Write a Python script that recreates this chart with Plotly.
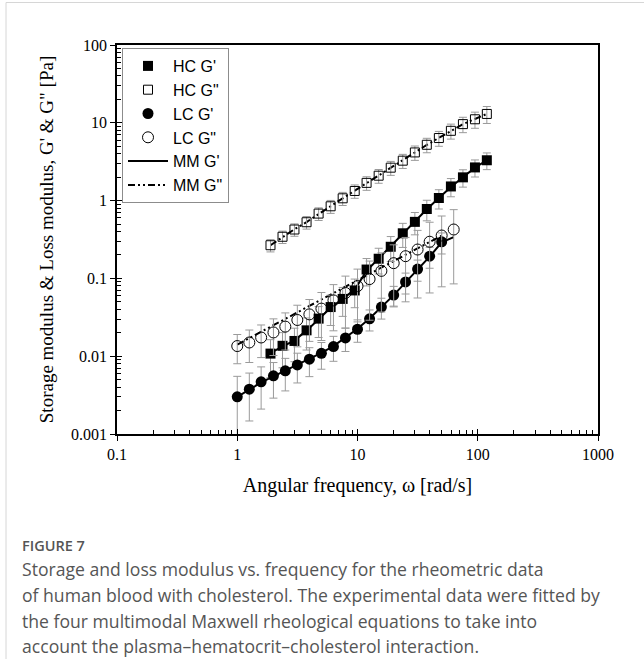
import plotly.graph_objects as go

# ---------------- data ----------------
hc_freq = [1.89, 2.38, 2.99, 3.77, 4.75, 5.98, 7.53, 9.48, 11.9, 15.0,
           18.9, 23.8, 30.0, 37.7, 47.5, 59.8, 75.3, 94.8, 119.0]
lc_freq = [1.0, 1.26, 1.58, 2.0, 2.51, 3.16, 3.98, 5.01, 6.31, 7.94,
           10.0, 12.6, 15.8, 20.0, 25.1, 31.6, 39.8, 50.1, 63.1]

hc_gp = [0.0108, 0.0136, 0.0157, 0.0215, 0.0304, 0.0428, 0.0545, 0.070, 0.130, 0.179,
         0.255, 0.38, 0.533, 0.78, 1.08, 1.52, 1.99, 2.67, 3.3]
hc_gp_err = [0.0055, 0.0065, 0.0072, 0.0095, 0.013, 0.018, 0.022, 0.028, 0.05, 0.065,
             0.09, 0.13, 0.17, 0.23, 0.30, 0.40, 0.50, 0.66, 0.80]

hc_gpp = [0.267, 0.343, 0.425, 0.527, 0.681, 0.845, 1.07, 1.33, 1.69, 2.09,
          2.65, 3.26, 4.16, 5.22, 6.37, 7.89, 9.62, 11.1, 13.0]
hc_gpp_err = [0.048, 0.062, 0.077, 0.097, 0.126, 0.16, 0.205, 0.26, 0.335, 0.42,
              0.54, 0.67, 0.87, 1.1, 1.38, 1.72, 2.15, 2.6, 3.2]

lc_gp = [0.00301, 0.00377, 0.00469, 0.00559, 0.00648, 0.00773, 0.00916, 0.0109, 0.0133,
         0.0172, 0.0222, 0.0302, 0.0428, 0.061, 0.090, 0.132, 0.193, 0.295]
lc_gp_err = [0.0025, 0.0023, 0.0026, 0.0027, 0.0029, 0.0032, 0.0037, 0.0041, 0.0047,
             0.0057, 0.0071, 0.0091, 0.0128, 0.018, 0.027, 0.040, 0.058, 0.089]

lc_gpp = [0.0135, 0.0150, 0.0174, 0.0202, 0.0240, 0.0292, 0.0345, 0.0409, 0.0522, 0.065,
          0.0796, 0.098, 0.125, 0.157, 0.193, 0.235, 0.296, 0.356, 0.425]
lc_gpp_err = [0.0055, 0.0067, 0.0078, 0.010, 0.012, 0.016, 0.019, 0.025, 0.031, 0.042,
              0.052, 0.069, 0.088, 0.113, 0.143, 0.179, 0.231, 0.278, 0.34]

# Multimodal Maxwell fits
mm_hc_gp = [0.0110, 0.0134, 0.0160, 0.0213, 0.0300, 0.0420, 0.0545, 0.072, 0.125, 0.180,
            0.258, 0.375, 0.535, 0.775, 1.08, 1.50, 2.00, 2.65, 3.3]
mm_hc_gpp = [0.267, 0.340, 0.428, 0.530, 0.675, 0.850, 1.07, 1.34, 1.68, 2.10,
             2.63, 3.28, 4.15, 5.20, 6.40, 7.90, 9.60, 11.2, 13.0]
mm_lc_gp = [0.0030, 0.0037, 0.0046, 0.0055, 0.0065, 0.0077, 0.0092, 0.0110, 0.0135, 0.0172,
            0.0225, 0.0305, 0.043, 0.061, 0.089, 0.130, 0.190, 0.29, 0.34]
mm_lc_gpp = [0.0141, 0.0170, 0.0206, 0.0250, 0.0302, 0.0365, 0.0443, 0.0536, 0.065, 0.078,
             0.094, 0.114, 0.138, 0.167, 0.202, 0.245, 0.295, 0.355]

x_ticks = [0.1, 1, 10, 100, 1000]
x_ticktext = ["0.1", "1", "10", "100", "1000"]
y_ticks = [0.001, 0.01, 0.1, 1, 10, 100]
y_ticktext = ["0.001", "0.01", "0.1", "1", "10", "100"]

caption_head = "FIGURE 7"
caption_lines = [
    "Storage and loss modulus vs. frequency for the rheometric data",
    "of human blood with cholesterol. The experimental data were fitted by",
    "the four multimodal Maxwell rheological equations to take into",
    "account the plasma\u2013hematocrit\u2013cholesterol interaction.",
]

# ---------------- layout geometry ----------------
W, H = 644, 659
L, R, T, B = 117, 598, 45, 434


def px(xp):
    return (xp - L) / (R - L)


def py(yp):
    return (B - yp) / (B - T)


ERR = "#9a9a9a"
SERIF = "Liberation Serif"
SANS = "Liberation Sans"
DASHDOT = "7px,3px,2px,3px,2px,3px"

fig = go.Figure()

# fitted curves (behind markers)
fig.add_trace(go.Scatter(x=hc_freq, y=mm_hc_gpp, mode="lines", name='MM G"', legendrank=6,
                         line=dict(color="black", width=2, dash=DASHDOT)))
fig.add_trace(go.Scatter(x=lc_freq[:len(mm_lc_gpp)], y=mm_lc_gpp, mode="lines", showlegend=False,
                         line=dict(color="black", width=2, dash=DASHDOT)))
fig.add_trace(go.Scatter(x=hc_freq, y=mm_hc_gp, mode="lines", name="MM G'", legendrank=5,
                         line=dict(color="black", width=2)))
fig.add_trace(go.Scatter(x=lc_freq[:len(mm_lc_gp)], y=mm_lc_gp, mode="lines", showlegend=False,
                         line=dict(color="black", width=2)))

# experimental data
fig.add_trace(go.Scatter(x=hc_freq, y=hc_gp, mode="markers", name="HC G'", legendrank=1,
                         marker=dict(symbol="square", size=10, color="black"),
                         error_y=dict(type="data", array=hc_gp_err, color=ERR, thickness=1, width=4)))
fig.add_trace(go.Scatter(x=hc_freq, y=hc_gpp, mode="markers", name='HC G"', legendrank=2,
                         marker=dict(symbol="square-open", size=9, color="black", line=dict(width=1)),
                         error_y=dict(type="data", array=hc_gpp_err, color=ERR, thickness=1, width=4)))
fig.add_trace(go.Scatter(x=lc_freq[:len(lc_gp)], y=lc_gp, mode="markers", name="LC G'", legendrank=3,
                         marker=dict(symbol="circle", size=11, color="black"),
                         error_y=dict(type="data", array=lc_gp_err, color=ERR, thickness=1, width=4)))
fig.add_trace(go.Scatter(x=lc_freq, y=lc_gpp, mode="markers", name='LC G"', legendrank=4,
                         marker=dict(symbol="circle-open", size=11, color="black", line=dict(width=1)),
                         error_y=dict(type="data", array=lc_gpp_err, color=ERR, thickness=1, width=4)))

# invisible trace on overlay axes (inner half of major ticks)
fig.add_trace(go.Scatter(x=[None], y=[None], xaxis="x2", yaxis="y2", showlegend=False,
                         hoverinfo="skip", mode="markers"))


def minor_vals(lo, hi):
    out = []
    d = lo
    while d < hi:
        for m in range(2, 10):
            out.append(m * d)
        d *= 10
    return out


axis_common = dict(type="log", showgrid=False, zeroline=False, showline=True, linecolor="black",
                   linewidth=1.5, mirror=True, ticks="outside", ticklen=5, tickwidth=1.2,
                   tickcolor="black", tickfont=dict(family=SERIF, size=16, color="black"))

fig.update_layout(
    width=W, height=H, autosize=False,
    margin=dict(l=L, r=W - R, t=T, b=H - B),
    paper_bgcolor="white", plot_bgcolor="white",
    xaxis=dict(axis_common, range=[-1, 3], tickmode="array", tickvals=x_ticks, ticktext=x_ticktext,
               minor=dict(ticks="inside", ticklen=4, tickwidth=1, tickcolor="black",
                          tickmode="array", tickvals=minor_vals(0.1, 1000)),
               title=dict(text="Angular frequency, \u03c9 [rad/s]", standoff=16,
                          font=dict(family=SERIF, size=20, color="black"))),
    yaxis=dict(axis_common, range=[-3, 2], tickmode="array", tickvals=y_ticks, ticktext=y_ticktext,
               minor=dict(ticks="inside", ticklen=4, tickwidth=1, tickcolor="black",
                          tickmode="array", tickvals=minor_vals(0.001, 100)),
               title=dict(text='Storage modulus & Loss modulus, G\' & G" [Pa]', standoff=12,
                          font=dict(family=SERIF, size=19, color="black"))),
    xaxis2=dict(type="log", range=[-1, 3], overlaying="x", side="bottom", showgrid=False,
                zeroline=False, showline=False, showticklabels=False, ticks="inside", ticklen=5,
                tickwidth=1.2, tickcolor="black", tickmode="array", tickvals=x_ticks),
    yaxis2=dict(type="log", range=[-3, 2], overlaying="y", side="left", showgrid=False,
                zeroline=False, showline=False, showticklabels=False, ticks="inside", ticklen=5,
                tickwidth=1.2, tickcolor="black", tickmode="array", tickvals=y_ticks),
    legend=dict(x=px(122), y=py(48), xanchor="left", yanchor="top",
                bgcolor="white", bordercolor="#8c8c8c", borderwidth=1,
                font=dict(family=SANS, size=16, color="black"),
                itemwidth=40, tracegroupgap=0),
    showlegend=True,
)

# page frame lines
fig.add_shape(type="line", xref="paper", yref="paper", x0=px(6), x1=px(W), y0=py(2.5), y1=py(2.5),
              line=dict(color="#d6d6d6", width=1))
fig.add_shape(type="line", xref="paper", yref="paper", x0=px(6), x1=px(6), y0=py(2.5), y1=py(H),
              line=dict(color="#d6d6d6", width=1))

# caption
fig.add_annotation(text=caption_head, xref="paper", yref="paper", x=px(20), y=py(545),
                   xanchor="left", yanchor="middle", showarrow=False,
                   font=dict(family="Open Sans", size=14.5, color="#555555", weight=600))
for i, line in enumerate(caption_lines):
    fig.add_annotation(text=line, xref="paper", yref="paper", x=px(20), y=py(569 + 25.8 * i),
                       xanchor="left", yanchor="middle", showarrow=False,
                       font=dict(family="Open Sans", size=17.6, color="#555555"))

fig.write_html("out.html")
